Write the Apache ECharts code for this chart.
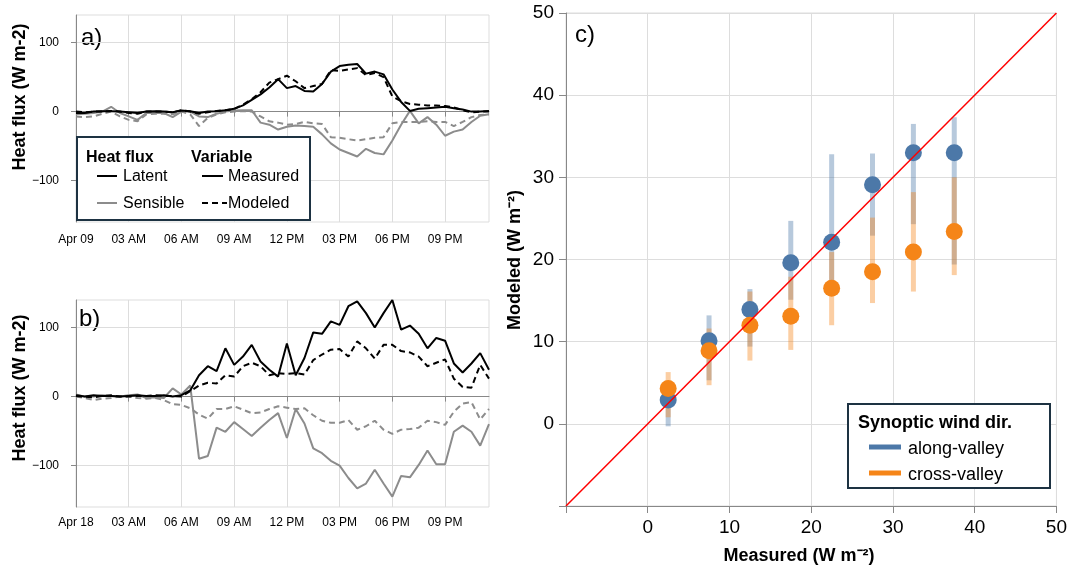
<!DOCTYPE html>
<html>
<head>
<meta charset="utf-8">
<script src="https://cdn.jsdelivr.net/npm/echarts@6/dist/echarts.min.js"></script>
<style>
html,body{margin:0;padding:0;background:#fff;}
#chart{width:1070px;height:569px;}
</style>
</head>
<body>
<div id="chart"></div>
<script>
// ---------- DATA ----------
const hours = [0,0.5,1,1.5,2,2.5,3,3.5,4,4.5,5,5.5,6,6.5,7,7.5,8,8.5,9,9.5,10,10.5,11,11.5,
               12,12.5,13,13.5,14,14.5,15,15.5,16,16.5,17,17.5,18,18.5,19,19.5,20,20.5,21,21.5,22,22.5,23,23.5];
const tickHours = [0,3,6,9,12,15,18,21];
const tickLabelsA = ['Apr 09','03 AM','06 AM','09 AM','12 PM','03 PM','06 PM','09 PM'];
const tickLabelsB = ['Apr 18','03 AM','06 AM','09 AM','12 PM','03 PM','06 PM','09 PM'];
const fluxTicks = [-100, 0, 100];

// Panel a (Apr 09)
const latentMeasuredA = [-2,-2,0,0.5,0.5,0,-1,-2,0,0.5,0,-1,1.5,0.5,-2,0,0.5,2,4,9,17,25,35,47,
                         34,37,30,29,40,58,66,68,69,55,58,54,32,14,1,4,5,6,7,5,3,0,0,1];
const latentModeledA = [0,-1,0,0,1,0,-2,-3,0,0,0,-1,2,0,-3,-1,1,2,4,10,18,28,42,47,
                        52,44,34,37,40,60,59,61,63,53,56,50,22,15,11,10,9,9,8,6,2,-1,0,0];
const sensibleMeasuredA = [-4,-3,-2,0,7,-2,-7,-12,-2,-2,-2,-8,0,0,-7,-8,-3,0,1.5,2,2,-16,-19,-26,
                           -22,-20,-21,-22,-33,-46,-55,-60,-65,-54,-60,-62,-42,-19,1,-17,-8,-19,-35,-29,-26,-15,-6,-4];
const sensibleModeledA = [-7,-8,-7,-3,0,-7,-12,-14,-4,-3,-3,-4,0,-4,-21,-9,-4,-1,0,1,0,-7,-14,-16,
                          -19,-18,-15,-17,-18,-37,-38,-40,-42,-40,-38,-37,-17,-15,-15,-15,-14,-15,-15,-21,-15,-8,-5,-4];

// Panel b (Apr 18)
const latentMeasuredB = [2,0,2,1,1,0,1,2,1,1,2,0,2,9,31,44,37,70,46,58,75,51,39,29,
                         77,31,56,93,91,109,104,131,138,121,100,121,140,97,103,91,70,85,81,48,35,48,63,39];
const latentModeledB = [1,0,-1,1,2,0,0,1,1,2,1,1,0,8,16,20,19,31,29,44,49,44,31,34,
                        33,34,32,53,61,68,69,58,80,70,55,75,75,66,64,58,44,49,54,26,14,13,46,26];
const sensibleMeasuredB = [3,0,0,2,1,0,2,3,-2,-1,-2,12,3,16,-90,-86,-45,-51,-37,-47,-57,-45,-34,-24,
                           -60,-18,-39,-75,-82,-93,-100,-118,-133,-126,-106,-126,-145,-115,-117,-99,-78,-98,-98,-51,-42,-51,-71,-40];
const sensibleModeledB = [0,-2,-5,-3,-2,0,0,-2,-3,-2,-5,-11,-12,-17,-26,-32,-18,-18,-14,-19,-24,-23,-18,-14,
                          -16,-18,-17,-27,-35,-38,-38,-34,-48,-43,-35,-48,-54,-48,-47,-45,-35,-37,-41,-22,-10,-8,-33,-18];

// Panel c
const measuredBins = [2.5, 7.5, 12.5, 17.5, 22.5, 27.5, 32.5, 37.5];
const alongMean = [2.9, 10.1, 13.9, 19.6, 22.1, 29.1, 33.0, 33.0];
const alongLow  = [-0.3, 5.3, 9.4, 15.1, 17.0, 22.9, 24.3, 19.4];
const alongHigh = [3.6, 13.2, 16.4, 24.7, 32.8, 32.9, 36.5, 37.3];
const crossMean = [4.3, 8.9, 12.0, 13.1, 16.5, 18.5, 20.9, 23.4];
const crossLow  = [0.8, 4.7, 7.7, 9.0, 12.0, 14.7, 16.1, 18.1];
const crossHigh = [6.3, 11.6, 16.1, 17.9, 20.9, 25.1, 28.2, 30.0];
const identityLine = [-10, 50];

// ---------- CHART ----------
const FONT = '"Liberation Sans", Arial, Helvetica, sans-serif';
const BLUE = '#4c78a8', ORANGE = '#f58518';
const BLACK = '#000000', GRAY = '#8c8c8c';
const AXIS_C = '#888888', GRID_C = '#dddddd', BOX_C = '#1d3242';

const pair = (arr) => hours.map((h, i) => [h, arr[i]]);
const fmtFlux = v => (v < 0 ? '\u2212' + Math.abs(v) : String(v));

function timeXAxis(gridIndex, labels, offset) {
  return {
    type: 'value', gridIndex, min: 0, max: 23.5, interval: 3, offset,
    axisLine: {show: true, lineStyle: {color: AXIS_C, width: 1}},
    axisTick: {show: true, length: 5, lineStyle: {color: AXIS_C}, customValues: tickHours},
    axisLabel: {customValues: tickHours, fontFamily: FONT, fontSize: 12, color: '#000', margin: 7,
      formatter: v => { const i = tickHours.indexOf(v); return i >= 0 ? labels[i] : ''; }},
    splitLine: {show: true, lineStyle: {color: GRID_C, width: 1}}
  };
}
function fluxYAxis(gridIndex) {
  return {
    type: 'value', gridIndex, min: -160, max: 140, offset: 5,
    axisLine: {show: true, lineStyle: {color: AXIS_C, width: 1}},
    axisTick: {show: true, length: 5, lineStyle: {color: AXIS_C}, customValues: fluxTicks},
    axisLabel: {customValues: fluxTicks, fontFamily: FONT, fontSize: 12, color: '#000', margin: 12, formatter: fmtFlux},
    splitLine: {show: true, lineStyle: {color: GRID_C, width: 1}}
  };
}
function fluxSeries(idx, name, arr, color, dashed) {
  return {
    type: 'line', name, xAxisIndex: idx, yAxisIndex: idx, data: pair(arr),
    showSymbol: false, symbol: 'none', silent: true, animation: false,
    lineStyle: {color, width: 2, type: dashed ? [6, 4] : 'solid'}
  };
}
function errSeries(name, low, high, color) {
  return {
    type: 'custom', name, xAxisIndex: 2, yAxisIndex: 2, animation: false, silent: true,
    data: measuredBins.map((x, i) => [x, low[i], high[i]]),
    encode: {x: 0, y: [1, 2]},
    renderItem: (params, api) => {
      const x = api.value(0);
      const p1 = api.coord([x, api.value(1)]);
      const p2 = api.coord([x, api.value(2)]);
      return {type: 'line', shape: {x1: p1[0], y1: p1[1], x2: p2[0], y2: p2[1]},
              style: {stroke: color, lineWidth: 5, opacity: 0.4}};
    }
  };
}
function meanSeries(name, mean, color) {
  return {
    type: 'scatter', name, xAxisIndex: 2, yAxisIndex: 2, animation: false, silent: true,
    data: measuredBins.map((x, i) => [x, mean[i]]),
    symbol: 'circle', symbolSize: 17, itemStyle: {color, opacity: 1}
  };
}

const txt = (x, y, text, size, bold, extra) => Object.assign({
  type: 'text', x, y, silent: true,
  style: {text, font: (bold ? 'bold ' : '') + size + 'px ' + FONT, fill: '#000',
    align: 'left', verticalAlign: 'middle', textAlign: 'left', textVerticalAlign: 'middle'}
}, extra || {});
const hline = (x1, x2, y, color, dashed, w) => ({
  type: 'line', silent: true, shape: {x1, y1: y, x2, y2: y},
  style: {stroke: color, lineWidth: w || 2, lineDash: dashed ? [6, 4] : null}
});
const vtitle = (x, y, text, size) => ({
  type: 'text', x, y, rotation: Math.PI / 2, silent: true,
  style: {text, font: 'bold ' + size + 'px ' + FONT, fill: '#000',
    align: 'center', verticalAlign: 'middle', textAlign: 'center', textVerticalAlign: 'middle'}
});

const option = {
  animation: false,
  backgroundColor: '#fff',
  grid: [
    {left: 76, top: 15, width: 413, height: 207, show: true, borderColor: GRID_C, borderWidth: 1, backgroundColor: 'transparent'},
    {left: 76, top: 300, width: 413, height: 207, show: true, borderColor: GRID_C, borderWidth: 1, backgroundColor: 'transparent'},
    {left: 566, top: 13, width: 492, height: 493, show: true, borderColor: GRID_C, borderWidth: 1, backgroundColor: 'transparent'}
  ],
  xAxis: [
    timeXAxis(0, tickLabelsA, 5),
    timeXAxis(1, tickLabelsB, 3),
    {
      type: 'value', gridIndex: 2, min: -10, max: 50, interval: 10,
      axisLine: {show: true, onZero: false, lineStyle: {color: AXIS_C, width: 1}},
      axisTick: {show: true, length: 7, lineStyle: {color: AXIS_C}},
      axisLabel: {fontFamily: FONT, fontSize: 19, color: '#000', margin: 12, formatter: v => (v === -10 ? '' : String(v))},
      splitLine: {show: true, lineStyle: {color: GRID_C, width: 1}}
    }
  ],
  yAxis: [
    fluxYAxis(0),
    fluxYAxis(1),
    {
      type: 'value', gridIndex: 2, min: -10, max: 50, interval: 10,
      axisLine: {show: true, onZero: false, lineStyle: {color: AXIS_C, width: 1}},
      axisTick: {show: true, length: 7, lineStyle: {color: AXIS_C}},
      axisLabel: {fontFamily: FONT, fontSize: 19, color: '#000', margin: 12, formatter: v => (v === -10 ? '' : String(v))},
      splitLine: {show: true, lineStyle: {color: GRID_C, width: 1}}
    }
  ],
  series: [
    fluxSeries(0, 'Sensible Modeled a', sensibleModeledA, GRAY, true),
    fluxSeries(0, 'Sensible Measured a', sensibleMeasuredA, GRAY, false),
    fluxSeries(0, 'Latent Modeled a', latentModeledA, BLACK, true),
    fluxSeries(0, 'Latent Measured a', latentMeasuredA, BLACK, false),
    fluxSeries(1, 'Sensible Modeled b', sensibleModeledB, GRAY, true),
    fluxSeries(1, 'Sensible Measured b', sensibleMeasuredB, GRAY, false),
    fluxSeries(1, 'Latent Modeled b', latentModeledB, BLACK, true),
    fluxSeries(1, 'Latent Measured b', latentMeasuredB, BLACK, false),
    errSeries('along-valley range', alongLow, alongHigh, BLUE),
    errSeries('cross-valley range', crossLow, crossHigh, ORANGE),
    meanSeries('along-valley', alongMean, BLUE),
    meanSeries('cross-valley', crossMean, ORANGE),
    {
      type: 'line', name: '1:1', xAxisIndex: 2, yAxisIndex: 2, animation: false, silent: true,
      data: identityLine.map(v => [v, v]), showSymbol: false, symbol: 'none', z: 5,
      lineStyle: {color: '#ff0000', width: 1.5}
    }
  ],
  graphic: [
    // panel labels
    txt(81, 38, 'a)', 24, false),
    txt(79, 319, 'b)', 24, false),
    txt(575, 35, 'c)', 24, false),
    // axis titles
    vtitle(20, 97, 'Heat flux (W m-2)', 18),
    vtitle(20, 388, 'Heat flux (W m-2)', 18),
    vtitle(515, 260, 'Modeled (W m\u207B\u00B2)', 18),
    {type: 'text', x: 799, y: 556, silent: true,
     style: {text: 'Measured (W m\u207B\u00B2)', font: 'bold 18px ' + FONT, fill: '#000',
       align: 'center', verticalAlign: 'middle', textAlign: 'center', textVerticalAlign: 'middle'}},
    // legend panel a
    {type: 'rect', silent: true, shape: {x: 77, y: 137, width: 233, height: 83},
     style: {fill: '#fff', stroke: BOX_C, lineWidth: 2}, z: 100},
    txt(86, 158, 'Heat flux', 16, true, {z: 101}),
    txt(191, 158, 'Variable', 16, true, {z: 101}),
    Object.assign(hline(97, 117, 176, BLACK, false), {z: 101}),
    txt(123, 177, 'Latent', 16, false, {z: 101}),
    Object.assign(hline(97, 117, 203, GRAY, false), {z: 101}),
    txt(123, 204, 'Sensible', 16, false, {z: 101}),
    Object.assign(hline(202, 223, 176, BLACK, false), {z: 101}),
    txt(228, 177, 'Measured', 16, false, {z: 101}),
    Object.assign(hline(202, 227, 203, BLACK, true), {z: 101}),
    txt(228, 204, 'Modeled', 16, false, {z: 101}),
    // legend panel c
    {type: 'rect', silent: true, shape: {x: 848, y: 404, width: 202, height: 84},
     style: {fill: '#fff', stroke: BOX_C, lineWidth: 2}, z: 100},
    txt(858, 423, 'Synoptic wind dir.', 18, true, {z: 101}),
    Object.assign(hline(869, 901, 447, BLUE, false, 5), {z: 101}),
    txt(908, 449, 'along-valley', 18, false, {z: 101}),
    Object.assign(hline(869, 901, 473, ORANGE, false, 5), {z: 101}),
    txt(908, 475, 'cross-valley', 18, false, {z: 101})
  ]
};

const chart = echarts.init(document.getElementById('chart'), null, {renderer: 'canvas'});
chart.setOption(option);
</script>
</body>
</html>
